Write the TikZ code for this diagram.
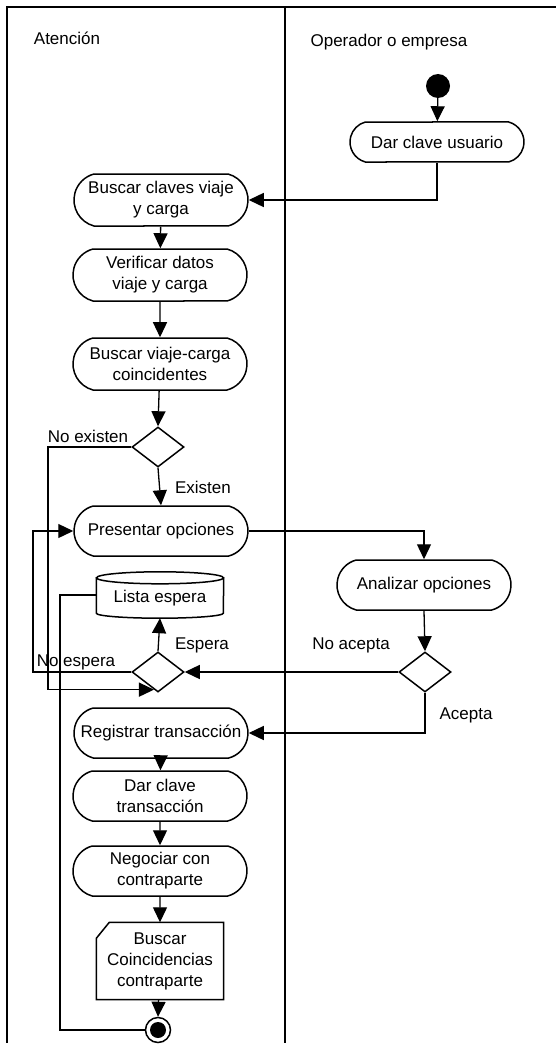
\documentclass[tikz,border=0pt]{standalone}
\usepackage{fontspec}
\setmainfont{Liberation Sans}
\usetikzlibrary{arrows.meta,shapes.geometric,shapes.misc,calc}
\begin{document}
\begin{tikzpicture}[x=1pt,y=-1pt,
  every node/.style={font=\fontsize{17}{21}\selectfont},
  act/.style={draw, line width=1.5pt, rounded rectangle, rounded rectangle arc length=150,
    minimum width=178pt, minimum height=50pt, align=center, inner sep=2pt},
  dec/.style={draw, line width=1.5pt, diamond, minimum width=52pt,
    minimum height=40pt, inner sep=0pt},
  plain/.style={draw=none, inner sep=1pt},
  arr/.style={line width=1.3pt, -{Triangle[length=15pt,width=14pt]}},
  flow/.style={line width=1.3pt},
  lane/.style={line width=1.5pt}]
\useasboundingbox (0,0) rectangle (556,1046);

% swimlanes
\coordinate (tl) at (7,7);
\coordinate (tr) at (556,7);
\coordinate (bl) at (7,1043);
\coordinate (mt) at (285,7);
\coordinate (mb) at (285,1043);
\draw[lane] (tr) -- (tl) -- (bl);
\draw[lane] (mt) -- (mb);
\node[plain] (laneA) at (67,38) {Atención};
\node[plain] (laneB) at (389,42) {Operador o empresa};

% activities
\fill (438,86) circle (12pt);
\node[circle, minimum size=24pt, inner sep=0pt] (start) at (438,86) {};
\node[act, minimum height=40pt] (dcu) at (437,142) {Dar clave usuario};
\node[act, minimum height=52pt] (bcv) at (161,200) {Buscar claves viaje\\y carga};
\node[act, minimum height=52pt] (ver) at (160,275) {Verificar datos\\viaje y carga};
\node[act, minimum height=52pt] (bvc) at (160,364) {Buscar viaje-carga\\coincidentes};
\node[dec] (d1) at (158,447) {};
\node[act] (pre) at (161,531) {Presentar opciones};
\node[act] (ana) at (424,585) {Analizar opciones};

% waiting list store
\node[minimum width=127pt, minimum height=46pt, inner sep=0pt] (lista) at (160,595) {};
\node[plain] at ($(lista.center)+(0,3)$) {Lista espera};
\draw[line width=1.5pt]
  ($(lista.north west)+(0,6)$) -- ($(lista.south west)+(0,-5)$)
  arc[start angle=180, end angle=360, x radius=63.5pt, y radius=5pt]
  -- ($(lista.north east)+(0,6)$);
\draw[line width=1.5pt] ($(lista.north)+(0,6)$)
  ellipse[x radius=63.5pt, y radius=6pt];

\node[dec] (d2) at (158,672) {};
\node[dec] (d3) at (425,672) {};
\node[act] (reg) at (161,733) {Registrar transacción};
\node[act] (dct) at (160,796) {Dar clave\\transacción};
\node[act] (neg) at (160,871) {Negociar con\\contraparte};

% note-shaped activity
\node[minimum width=127pt, minimum height=77pt, align=center, inner sep=0pt] (bcc) at (160,961)
  {Buscar\\Coincidencias\\contraparte};
\draw[line width=1.5pt] (bcc.south west) -- (bcc.south east) -- (bcc.north east)
  -- ($(bcc.north west)+(13pt,0pt)$) -- ($(bcc.north west)+(0pt,-16pt)$) -- cycle;

% final node
\node[draw, circle, line width=1.5pt, minimum size=25pt, inner sep=0pt] (end) at (158,1030) {};
\fill (end.center) circle (8pt);

% guard labels
\node[plain] (lNoEx) at (88,436) {No existen};
\node[plain] (lEx) at (203,487) {Existen};
\node[plain] (lEsp) at (202,645) {Espera};
\node[plain] (lNoEsp) at (76,662) {No espera};
\node[plain] (lNoAc) at (351,645) {No acepta};
\node[plain] (lAc) at (466,715) {Acepta};

% bend columns
\coordinate (xNoEx) at (48,0);
\coordinate (xNoEsp) at (33,0);
\coordinate (xLista) at (60,0);
\coordinate (d2in) at ($(d2.south)!0.15!(d2.west)$);

% flows
\draw[arr] (start) -- (dcu);
\draw[arr] (dcu.south) |- (bcv.east);
\draw[arr] (bcv) -- (ver);
\draw[arr] (ver) -- (bvc);
\draw[arr] (bvc) -- (d1.north);
\draw[arr] (d1.south) -- (pre.north);
\draw[arr] (d1.west) -| (d2in -| xNoEx) -- (d2in);
\draw[arr] (pre.east) -| (ana.north);
\draw[arr] (ana.south) -- (d3.north);
\draw[arr] (d3.west) -- (d2.east);
\draw[arr] (d3.south) |- (reg.east);
\draw[arr] (d2.north) -- (lista.south);
\draw[arr] (d2.west) -- (d2.west -| xNoEsp) |- (pre.west);
\draw[flow] (lista.west) -- (lista.west -| xLista) |- (end.west);
\draw[arr] (reg) -- (dct);
\draw[arr] (dct) -- (neg);
\draw[arr] (neg) -- (bcc);
\draw[arr] (bcc) -- (end.north);
\end{tikzpicture}
\end{document}
